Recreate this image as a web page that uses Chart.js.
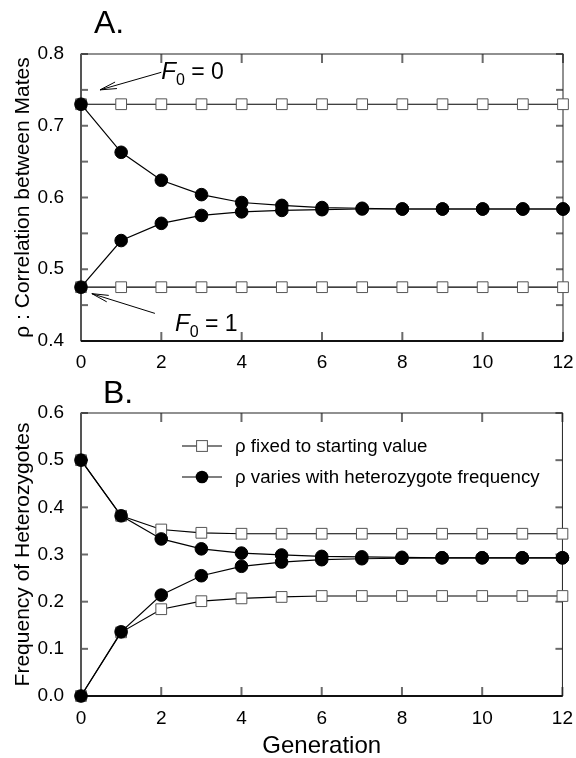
<!DOCTYPE html>
<html lang="en">
<head>
<meta charset="UTF-8">
<title>Correlation between mates and heterozygote frequency</title>
<script src="https://cdn.jsdelivr.net/npm/chart.js@4"></script>
<style>
    body{ margin:0; background:#fff; width:576px; height:758px; position:relative; overflow:hidden; }
    .panel{ position:absolute; left:0; width:576px; }
    #panelA{ top:0; height:380px; }
    #panelB{ top:380px; height:378px; }
</style>
</head>
<body>
<div class="panel" id="panelA"><canvas id="chartA" width="576" height="380"></canvas></div>
<div class="panel" id="panelB"><canvas id="chartB" width="576" height="378"></canvas></div>

<script>
    // generations on the x axis
    let gens = [0, 1, 2, 3, 4, 5, 6, 7, 8, 9, 10, 11, 12];

    // panel A : rho, correlation between mates
    let rhoFixedHigh = [0.73, 0.73, 0.73, 0.73, 0.73, 0.73, 0.73, 0.73, 0.73, 0.73, 0.73, 0.73, 0.73];
    let rhoFixedLow  = [0.475, 0.475, 0.475, 0.475, 0.475, 0.475, 0.475, 0.475, 0.475, 0.475, 0.475, 0.475, 0.475];
    let rhoVaryHigh  = [0.73, 0.663, 0.624, 0.604, 0.593, 0.589, 0.586, 0.585, 0.584, 0.584, 0.584, 0.584, 0.584];
    let rhoVaryLow   = [0.475, 0.540, 0.564, 0.575, 0.580, 0.582, 0.583, 0.584, 0.584, 0.584, 0.584, 0.584, 0.584];

    // panel B : frequency of heterozygotes
    let hetFixedHigh = [0.5, 0.382, 0.353, 0.346, 0.344, 0.344, 0.344, 0.344, 0.344, 0.344, 0.344, 0.344, 0.344];
    let hetFixedLow  = [0.0, 0.135, 0.184, 0.201, 0.207, 0.210, 0.212, 0.212, 0.212, 0.212, 0.212, 0.212, 0.212];
    let hetVaryHigh  = [0.5, 0.382, 0.333, 0.312, 0.303, 0.299, 0.296, 0.295, 0.294, 0.293, 0.293, 0.293, 0.293];
    let hetVaryLow   = [0.0, 0.136, 0.214, 0.255, 0.275, 0.284, 0.289, 0.291, 0.292, 0.293, 0.293, 0.293, 0.293];

    // tick labels
    let xTickStep = 2;
    let rhoTicks = ['0.4', '0.5', '0.6', '0.7', '0.8'];
    let hetTicks = ['0.0', '0.1', '0.2', '0.3', '0.4', '0.5', '0.6'];

    let legendLabels = ['\u03c1 fixed to starting value', '\u03c1 varies with heterozygote frequency'];

    const FONT = '"Liberation Sans", Arial, Helvetica, sans-serif';
    const TICK_SIZE = 19;

    function pts(vals){
        return gens.map((g, i) => ({x: g, y: vals[i]}));
    }
    function circles(label, vals){
        return {
            label: label, data: pts(vals),
            borderColor: '#000', borderWidth: 1.2, tension: 0, fill: false, clip: false,
            pointStyle: 'circle', pointRadius: 6.3, pointBackgroundColor: '#000',
            pointBorderColor: '#000', pointBorderWidth: 1
        };
    }
    function squares(label, vals){
        return {
            label: label, data: pts(vals),
            borderColor: '#000', borderWidth: 1.2, tension: 0, fill: false, clip: false,
            pointStyle: 'rect', pointRadius: 7.6, pointBackgroundColor: '#fff',
            pointBorderColor: '#555', pointBorderWidth: 1
        };
    }

    function line(ctx, x1, y1, x2, y2){
        ctx.beginPath(); ctx.moveTo(x1, y1); ctx.lineTo(x2, y2); ctx.stroke();
    }

    // inward ticks on all four sides + the box, placed with the scales
    let frame = {
        id: 'frame',
        beforeDatasetsDraw(chart){
            let ctx = chart.ctx, x = chart.scales.x, y = chart.scales.y;
            let L = x.getPixelForValue(x.min), R = x.getPixelForValue(x.max);
            let B = y.getPixelForValue(y.min), T = y.getPixelForValue(y.max);
            ctx.save();
            ctx.strokeStyle = '#6a6a6a';
            ctx.lineWidth = 2;
            x.ticks.forEach(t => {
                let px = x.getPixelForValue(t.value);
                line(ctx, px, B, px, B - 9);
                line(ctx, px, T, px, T + 9);
            });
            y.ticks.forEach(t => {
                let py = y.getPixelForValue(t.value);
                line(ctx, L, py, L + 7, py);
                line(ctx, R, py, R - 7, py);
            });
            ctx.strokeStyle = '#222';
            ctx.lineWidth = 1;
            ctx.strokeRect(L, T, R - L, B - T);
            ctx.strokeStyle = '#555';
            ctx.lineWidth = 2;
            line(ctx, L, T, L, B);
            ctx.strokeStyle = '#111';
            line(ctx, L, B, R, B);
            ctx.restore();
        }
    };

    // "A." / "B."
    let panelLabel = {
        id: 'panelLabel',
        afterDraw(chart, args, opts){
            let ctx = chart.ctx, a = chart.chartArea;
            ctx.save();
            ctx.fillStyle = '#000';
            ctx.font = '32px ' + FONT;
            ctx.textBaseline = 'alphabetic';
            ctx.fillText(opts.text, a.left + opts.dx, a.top + opts.dy);
            ctx.restore();
        }
    };

    function arrow(ctx, x1, y1, x2, y2){
        line(ctx, x1, y1, x2, y2);
        let ang = Math.atan2(y2 - y1, x2 - x1), len = 17, spread = 0.2;
        line(ctx, x2, y2, x2 - len * Math.cos(ang - spread), y2 - len * Math.sin(ang - spread));
        line(ctx, x2, y2, x2 - len * Math.cos(ang + spread), y2 - len * Math.sin(ang + spread));
    }

    // F0 = 0 / F0 = 1 callouts, anchored in data units
    let callouts = {
        id: 'callouts',
        afterDatasetsDraw(chart, args, opts){
            let ctx = chart.ctx, x = chart.scales.x, y = chart.scales.y;
            ctx.save();
            ctx.strokeStyle = '#000';
            ctx.fillStyle = '#000';
            ctx.lineWidth = 1;
            (opts.items || []).forEach(it => {
                arrow(ctx, x.getPixelForValue(it.from[0]), y.getPixelForValue(it.from[1]),
                           x.getPixelForValue(it.tip[0]), y.getPixelForValue(it.tip[1]));
                let tx = x.getPixelForValue(it.text[0]), ty = y.getPixelForValue(it.text[1]);
                ctx.textBaseline = 'alphabetic';
                ctx.font = 'italic 24px ' + FONT;
                ctx.fillText('F', tx, ty);
                tx += ctx.measureText('F').width;
                ctx.font = '16px ' + FONT;
                ctx.fillText('0', tx, ty + 6);
                tx += ctx.measureText('0').width;
                ctx.font = '23px ' + FONT;
                ctx.fillText(' = ' + it.value, tx, ty);
            });
            ctx.restore();
        }
    };

    // legend inside panel B
    let insideLegend = {
        id: 'insideLegend',
        afterDatasetsDraw(chart, args, opts){
            if(!opts.show) return;
            let ctx = chart.ctx, a = chart.chartArea;
            ctx.save();
            legendLabels.forEach((txt, i) => {
                let cy = a.top + 33 + i * 31;
                let x0 = a.left + 101, x1 = a.left + 141, cx = (x0 + x1) / 2;
                ctx.strokeStyle = '#000';
                ctx.lineWidth = 1.2;
                line(ctx, x0, cy, x1, cy);
                if(i == 0){
                    ctx.fillStyle = '#fff';
                    ctx.strokeStyle = '#555';
                    ctx.lineWidth = 1;
                    ctx.fillRect(cx - 5.4, cy - 5.4, 10.8, 10.8);
                    ctx.strokeRect(cx - 5.4, cy - 5.4, 10.8, 10.8);
                } else {
                    ctx.fillStyle = '#000';
                    ctx.beginPath(); ctx.arc(cx, cy, 6.3, 0, Math.PI * 2); ctx.fill();
                }
                ctx.fillStyle = '#000';
                ctx.font = '18.7px ' + FONT;
                ctx.textBaseline = 'middle';
                ctx.fillText(txt, a.left + 154, cy + 1);
            });
            ctx.restore();
        }
    };

    function tickLabeler(list){
        return function(v){
            let s = v.toFixed(1);
            return (list.includes(s) && Math.abs(v * 10 - Math.round(v * 10)) < 1e-6) ? s : '';
        };
    }

    function baseOptions(yMin, yMax, yStep, yList, yTitle, xTitle, xHeight, padTop, xPad){
        return {
            responsive: false,
            animation: false,
            layout: { padding: { top: padTop, right: 13, bottom: 0, left: 0 } },
            scales: {
                x: {
                    type: 'linear', min: 0, max: 12,
                    grid: { display: false }, border: { display: false },
                    ticks: { stepSize: xTickStep, color: '#000', padding: xPad, autoSkip: false,
                             maxRotation: 0, font: { size: TICK_SIZE, family: FONT } },
                    title: { display: !!xTitle, text: xTitle || '', color: '#000',
                             font: { size: 24, family: FONT }, padding: { top: 0, bottom: -3 } },
                    afterFit: s => { s.height = xHeight; }
                },
                y: {
                    min: yMin, max: yMax,
                    grid: { display: false }, border: { display: false },
                    ticks: { stepSize: yStep, color: '#000', padding: 9, autoSkip: false,
                             font: { size: TICK_SIZE, family: FONT }, callback: tickLabeler(yList) },
                    title: { display: true, text: yTitle, color: '#000',
                             font: { size: 21, family: FONT }, padding: { top: 11, bottom: 0 } },
                    afterFit: s => { s.width = 81; }
                }
            },
            plugins: {
                legend: { display: false },
                tooltip: { enabled: false }
            }
        };
    }

    let optsA = baseOptions(0.4, 0.8, 0.05, rhoTicks, '\u03c1 : Correlation between Mates', null, 39, 54, 2);
    optsA.plugins.panelLabel = { text: 'A.', dx: 13, dy: -21 };
    optsA.plugins.callouts = { items: [
        { from: [2.0, 0.7745], tip: [0.473, 0.75], text: [2.0, 0.7652], value: '0' },
        { from: [1.84, 0.4385], tip: [0.27, 0.466], text: [2.34, 0.4137], value: '1' }
    ] };

    let chartA = new Chart(document.getElementById('chartA'), {
        type: 'line',
        data: {
            datasets: [
                circles('varies, F0 = 0', rhoVaryHigh),
                circles('varies, F0 = 1', rhoVaryLow),
                squares('fixed, F0 = 0', rhoFixedHigh),
                squares('fixed, F0 = 1', rhoFixedLow)
            ]
        },
        options: optsA,
        plugins: [frame, panelLabel, callouts]
    });

    let optsB = baseOptions(0, 0.6, 0.1, hetTicks, 'Frequency of Heterozygotes', 'Generation', 62, 33, 3);
    optsB.plugins.panelLabel = { text: 'B.', dx: 22, dy: -10 };
    optsB.plugins.insideLegend = { show: true };

    let chartB = new Chart(document.getElementById('chartB'), {
        type: 'line',
        data: {
            datasets: [
                circles('varies, high start', hetVaryHigh),
                circles('varies, low start', hetVaryLow),
                squares('fixed, high start', hetFixedHigh),
                squares('fixed, low start', hetFixedLow)
            ]
        },
        options: optsB,
        plugins: [frame, panelLabel, insideLegend]
    });
</script>
</body>
</html>
